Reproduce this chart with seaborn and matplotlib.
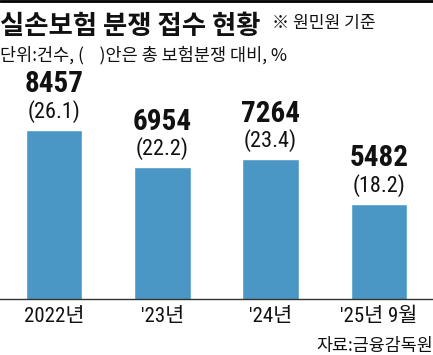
import matplotlib
matplotlib.use("Agg")
import matplotlib.pyplot as plt
import seaborn as sns
import pandas as pd
from matplotlib.lines import Line2D

# data
periods = ["2022년", "'23년", "'24년", "'25년 9월"]
cases = [8457, 6954, 7264, 5482]
shares = [26.1, 22.2, 23.4, 18.2]

df = pd.DataFrame({"period": periods, "cases": cases, "share": shares})

sns.set_style("white")
plt.rcParams['font.family'] = ['Noto Sans CJK KR', 'DejaVu Sans']
num_font = ['Roboto Condensed', 'Noto Sans CJK KR']

fig = plt.figure(figsize=(4.33, 3.55), dpi=100)
ax = fig.add_axes([0, 56 / 355, 1, (299 - 70) / 355])

sns.barplot(data=df, x="period", y="cases", color="#4a97c5", width=0.52,
            saturation=1, ax=ax)

ax.set_xlim(-0.5, 3.5)
ax.set_ylim(1650, 10860)
ax.set_xlabel("")
ax.set_ylabel("")
ax.set_yticks([])
ax.tick_params(axis='x', length=0, pad=6)
ax.set_xticks(range(len(periods)))
ax.set_xticklabels(periods, fontsize=15, family=num_font, color="#111111")

for s in ["top", "left", "right"]:
    ax.spines[s].set_visible(False)
ax.spines["bottom"].set_color("#333333")
ax.spines["bottom"].set_linewidth(1.0)

for i, (c, s) in enumerate(zip(cases, shares)):
    ax.annotate(f"({s})", (i, c), xytext=(0, 5), textcoords="offset points",
                ha="center", va="bottom", fontsize=16, family=num_font,
                color="#111111")
    ax.annotate(f"{c}", (i, c), xytext=(0, 22.5), textcoords="offset points",
                ha="center", va="bottom", fontsize=21, fontweight="bold",
                family=num_font, color="#111111")

# top rule
fig.add_artist(Line2D([0, 1], [0.997, 0.997], color="black", lw=2.0,
                      transform=fig.transFigure))

fig.text(0.0, 1 - 34 / 355, "실손보험 분쟁 접수 현황", fontsize=19,
         fontweight="bold", ha="left", va="baseline", color="#111111")
fig.text(272 / 433, 1 - 28 / 355, "※ 원민원 기준", fontsize=12.3,
         ha="left", va="baseline", color="#111111")
fig.text(0.0, 1 - 60 / 355, "단위:건수, (    )안은 총 보험분쟁 대비, %",
         fontsize=12.6, ha="left", va="baseline", color="#111111")
fig.text(1.0, 1 - 351 / 355, "자료:금융감독원", fontsize=12.5,
         ha="right", va="baseline", color="#111111")

plt.savefig("out.png", dpi=100)
